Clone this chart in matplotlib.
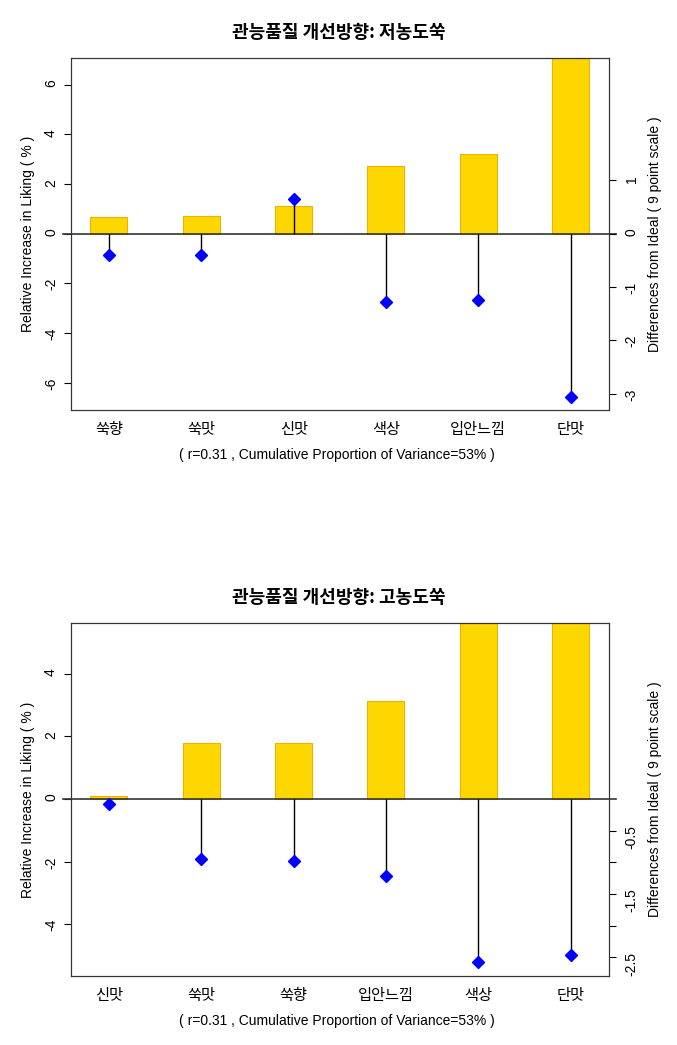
import matplotlib.pyplot as plt
import numpy as np

plt.rcParams['font.family'] = ['Liberation Sans', 'Noto Sans CJK KR']

# panel 1: low concentration
low_labels = ['쑥향', '쑥맛', '신맛', '색상', '입안느낌', '단맛']
low_liking = [0.69, 0.73, 1.11, 2.75, 3.23, 7.08]
low_diff = [-0.39, -0.39, 0.66, -1.28, -1.25, -3.07]

# panel 2: high concentration
high_labels = ['신맛', '쑥맛', '쑥향', '입안느낌', '색상', '단맛']
high_liking = [0.10, 1.79, 1.79, 3.13, 5.63, 5.63]
high_diff = [-0.08, -0.94, -0.98, -1.21, -2.58, -2.47]

subtitle = '( r=0.31 , Cumulative Proportion of Variance=53% )'
W, H = 677, 1045
kr = ['Noto Sans CJK KR', 'DejaVu Sans']


def panel(fig, top, bottom, title, labels, liking, diff, ylim, k,
          lticks, rticks, rlabels):
    ax = fig.add_axes([70.5 / W, 1 - bottom / H, 539 / W, (bottom - top) / H])
    x = np.arange(len(labels))
    ax.bar(x, liking, width=0.4, color='#FFD700', edgecolor='#EBB300',
           linewidth=0.8, zorder=2)
    ax.set_xlim(-0.415, len(labels) - 1 + 0.42)
    ax.set_ylim(*ylim)
    ax.set_yticks(lticks)
    ax.set_yticklabels([str(t) for t in lticks])
    ax.tick_params(axis='y', direction='out', length=5, width=0.8,
                   labelsize=10, labelrotation=90, pad=4)
    ax.set_xticks(x)
    ax.set_xticklabels(labels, family=kr, fontsize=11)
    ax.tick_params(axis='x', length=0, pad=8)
    ax.plot([-0.013, 1.012], [0, 0], color='#333333', lw=1.2,
            transform=ax.get_yaxis_transform(), clip_on=False, zorder=3)
    for s in ax.spines.values():
        s.set_color('#333333')

    ax2 = ax.twinx()
    ax2.set_ylim(ylim[0] / k, ylim[1] / k)
    ax2.vlines(x, 0, diff, color='black', lw=1)
    ax2.plot(x, diff, 'D', color='#0000FF', markersize=6, zorder=4)
    ax2.set_yticks(rticks)
    ax2.set_yticklabels(rlabels)
    ax2.tick_params(axis='y', direction='out', length=5, width=0.8,
                    labelsize=10, labelrotation=90, pad=6)
    for s in ax2.spines.values():
        s.set_color('#333333')

    cy = 1 - (top + bottom) / 2 / H
    fig.text(28 / W, cy, 'Relative Increase in Liking ( % )', rotation=90,
             ha='center', va='center', fontsize=10)
    fig.text(655 / W, cy, 'Differences from Ideal ( 9 point scale )',
             rotation=90, ha='center', va='center', fontsize=10)
    fig.text(339 / W, 1 - (top - 26) / H, title, ha='center', va='center',
             family=kr, fontsize=13, fontweight='bold')
    fig.text(337 / W, 1 - (bottom + 45) / H, subtitle, ha='center',
             va='center', fontsize=10)
    return ax


fig = plt.figure(figsize=(W / 100, H / 100), dpi=100)

panel(fig, 58.3, 410, '관능품질 개선방향: 저농도쑥', low_labels, low_liking,
      low_diff, (-7.1, 7.07), 2.147, [-6, -4, -2, 0, 2, 4, 6],
      [-3, -2, -1, 0, 1], ['-3', '-2', '-1', '0', '1'])

panel(fig, 623.3, 976, '관능품질 개선방향: 고농도쑥', high_labels, high_liking,
      high_diff, (-5.65, 5.61), 2.022, [-4, -2, 0, 2, 4],
      [-2.5, -2, -1.5, -1, -0.5], ['-2.5', '', '-1.5', '', '-0.5'])

fig.savefig('out.png', dpi=100)
